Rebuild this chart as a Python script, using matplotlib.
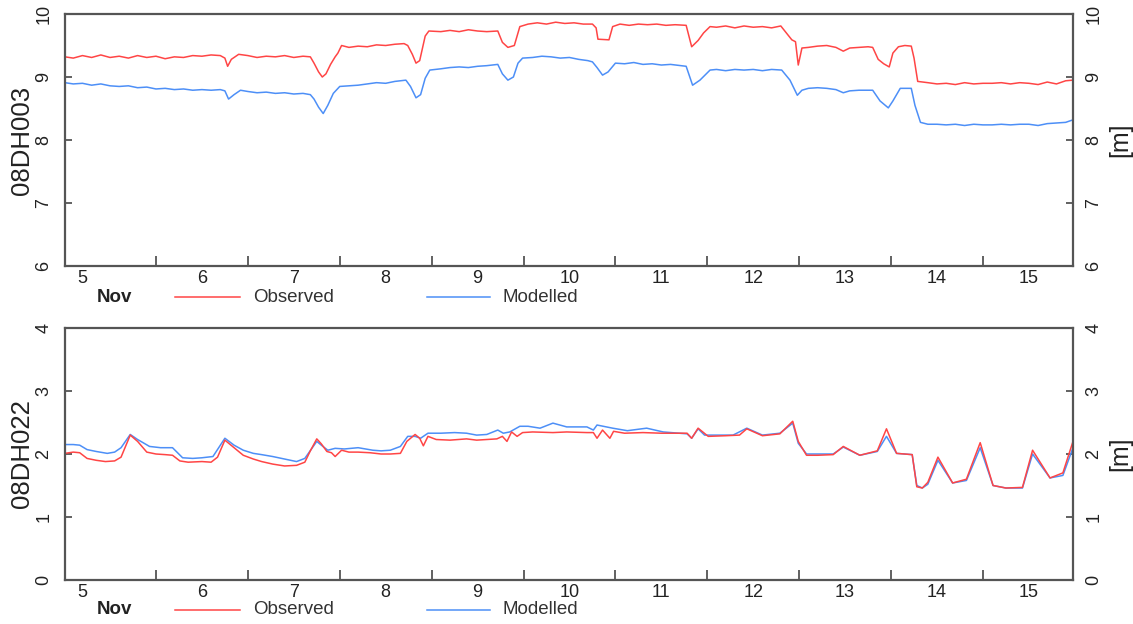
import matplotlib
matplotlib.use("Agg")
import matplotlib.pyplot as plt
from matplotlib.lines import Line2D

plt.rcParams["font.family"] = ["Liberation Sans", "DejaVu Sans"]

RED = "#ff4545"
BLUE = "#4d8ff7"
GREY = "#555555"

# x is day of November; labels sit on the days, tick marks between them
DAY_LABELS = ["5", "6", "7", "8", "9", "10", "11", "12", "13", "14", "15"]
DAY_LABEL_POS = [4.70, 6, 7, 8, 9, 10, 11, 12, 13, 14, 15]
DAY_TICKS = [5.5, 6.5, 7.5, 8.5, 9.5, 10.5, 11.5, 12.5, 13.5, 14.5]

# ---- station 08DH003 (top) ----
t_obs1 = [4.51, 4.6, 4.7, 4.8, 4.9, 5.0, 5.1, 5.2, 5.3, 5.4, 5.5, 5.6, 5.7, 5.8, 5.9,
          6.0, 6.1, 6.2, 6.25, 6.28, 6.32, 6.4, 6.5, 6.6, 6.7, 6.8, 6.9, 7.0, 7.1,
          7.18, 7.22, 7.27, 7.31, 7.35, 7.40, 7.45, 7.48, 7.52, 7.6, 7.7, 7.8, 7.9,
          8.0, 8.1, 8.2, 8.24, 8.29, 8.33, 8.37, 8.43, 8.47, 8.6, 8.7, 8.8, 8.9, 9.0,
          9.1, 9.22, 9.27, 9.33, 9.40, 9.46, 9.55, 9.65, 9.75, 9.85, 9.95, 10.05,
          10.15, 10.25, 10.29, 10.31, 10.43, 10.47, 10.55, 10.65, 10.75, 10.85,
          10.95, 11.05, 11.15, 11.27, 11.33, 11.40, 11.46, 11.53, 11.6, 11.7, 11.8,
          11.9, 12.0, 12.1, 12.2, 12.3, 12.36, 12.42, 12.46, 12.49, 12.53, 12.6,
          12.7, 12.8, 12.9, 12.98, 13.05, 13.15, 13.25, 13.30, 13.36, 13.42, 13.48,
          13.52, 13.58, 13.65, 13.72, 13.75, 13.79, 13.9, 14.0, 14.1, 14.2, 14.3,
          14.4, 14.5, 14.6, 14.7, 14.8, 14.9, 15.0, 15.1, 15.2, 15.3, 15.4, 15.48]
obs1 = [9.32, 9.30, 9.34, 9.31, 9.35, 9.31, 9.33, 9.30, 9.34, 9.31, 9.33, 9.29, 9.32,
        9.31, 9.34, 9.33, 9.35, 9.34, 9.30, 9.17, 9.28, 9.36, 9.34, 9.31, 9.33, 9.32,
        9.34, 9.31, 9.33, 9.32, 9.22, 9.08, 9.00, 9.05, 9.20, 9.32, 9.38, 9.50, 9.47,
        9.49, 9.48, 9.51, 9.50, 9.52, 9.53, 9.50, 9.36, 9.22, 9.26, 9.65, 9.73, 9.72,
        9.74, 9.72, 9.75, 9.73, 9.72, 9.73, 9.55, 9.47, 9.50, 9.80, 9.84, 9.86, 9.84,
        9.87, 9.85, 9.86, 9.84, 9.84, 9.78, 9.60, 9.59, 9.80, 9.84, 9.82, 9.84, 9.83,
        9.84, 9.82, 9.83, 9.82, 9.48, 9.58, 9.70, 9.80, 9.79, 9.81, 9.78, 9.81, 9.79,
        9.80, 9.78, 9.81, 9.70, 9.59, 9.56, 9.19, 9.46, 9.47, 9.49, 9.50, 9.47, 9.41,
        9.46, 9.47, 9.48, 9.47, 9.28, 9.21, 9.16, 9.38, 9.48, 9.50, 9.49, 9.30, 8.93,
        8.91, 8.89, 8.90, 8.88, 8.91, 8.89, 8.90, 8.90, 8.91, 8.89, 8.91, 8.90, 8.88,
        8.92, 8.89, 8.94, 8.95]

t_mod1 = [4.51, 4.6, 4.7, 4.8, 4.9, 5.0, 5.1, 5.2, 5.3, 5.4, 5.5, 5.6, 5.7, 5.8, 5.9,
          6.0, 6.1, 6.2, 6.25, 6.29, 6.35, 6.42, 6.5, 6.6, 6.7, 6.8, 6.9, 7.0, 7.1,
          7.18, 7.22, 7.27, 7.32, 7.37, 7.43, 7.50, 7.6, 7.7, 7.8, 7.9, 8.0, 8.1,
          8.22, 8.27, 8.33, 8.38, 8.43, 8.48, 8.6, 8.7, 8.8, 8.9, 9.0, 9.1, 9.22,
          9.27, 9.33, 9.39, 9.44, 9.49, 9.6, 9.7, 9.8, 9.9, 10.0, 10.1, 10.2, 10.25,
          10.30, 10.36, 10.42, 10.50, 10.6, 10.7, 10.8, 10.9, 11.0, 11.1, 11.27,
          11.34, 11.42, 11.53, 11.6, 11.7, 11.8, 11.9, 12.0, 12.1, 12.2, 12.31,
          12.40, 12.48, 12.53, 12.6, 12.7, 12.8, 12.9, 12.98, 13.05, 13.15, 13.30,
          13.38, 13.47, 13.52, 13.60, 13.72, 13.76, 13.82, 13.9, 14.0, 14.1, 14.2,
          14.3, 14.4, 14.5, 14.6, 14.7, 14.8, 14.9, 15.0, 15.1, 15.2, 15.3, 15.4, 15.48]
mod1 = [8.91, 8.89, 8.90, 8.87, 8.89, 8.86, 8.85, 8.86, 8.83, 8.84, 8.81, 8.82, 8.80,
        8.81, 8.79, 8.80, 8.79, 8.80, 8.78, 8.65, 8.72, 8.79, 8.77, 8.75, 8.76, 8.74,
        8.75, 8.73, 8.74, 8.72, 8.65, 8.52, 8.42, 8.55, 8.74, 8.85, 8.86, 8.87, 8.89,
        8.91, 8.90, 8.93, 8.95, 8.85, 8.67, 8.72, 8.98, 9.11, 9.13, 9.15, 9.16, 9.15,
        9.17, 9.18, 9.20, 9.05, 8.95, 9.00, 9.22, 9.30, 9.31, 9.33, 9.32, 9.30, 9.31,
        9.28, 9.26, 9.24, 9.15, 9.03, 9.08, 9.22, 9.21, 9.23, 9.20, 9.21, 9.19, 9.20,
        9.17, 8.87, 8.95, 9.11, 9.12, 9.10, 9.12, 9.11, 9.12, 9.10, 9.12, 9.11, 8.95,
        8.71, 8.79, 8.82, 8.83, 8.82, 8.80, 8.75, 8.78, 8.79, 8.79, 8.62, 8.51, 8.62,
        8.82, 8.82, 8.55, 8.28, 8.25, 8.25, 8.24, 8.25, 8.23, 8.25, 8.24, 8.24, 8.25,
        8.24, 8.25, 8.25, 8.23, 8.26, 8.27, 8.28, 8.32]

# ---- station 08DH022 (bottom) ----
t_obs2 = [4.51, 4.6, 4.67, 4.75, 4.85, 4.95, 5.05, 5.12, 5.22, 5.30, 5.40, 5.50, 5.60,
          5.68, 5.76, 5.85, 6.0, 6.1, 6.17, 6.25, 6.35, 6.45, 6.56, 6.65, 6.77, 6.9,
          7.03, 7.12, 7.18, 7.25, 7.30, 7.36, 7.41, 7.45, 7.52, 7.6, 7.7, 7.83, 7.95,
          8.05, 8.16, 8.23, 8.32, 8.37, 8.41, 8.46, 8.55, 8.7, 8.88, 8.99, 9.21, 9.27,
          9.32, 9.37, 9.43, 9.49, 9.6, 9.82, 9.97, 10.19, 10.26, 10.30, 10.36, 10.44,
          10.48, 10.6, 10.8, 11.0, 11.28, 11.33, 11.40, 11.51, 11.7, 11.85, 11.93,
          12.10, 12.29, 12.43, 12.49, 12.58, 12.7, 12.87, 12.98, 13.16, 13.35, 13.45,
          13.56, 13.73, 13.78, 13.84, 13.9, 14.01, 14.17, 14.32, 14.47, 14.61, 14.75,
          14.93, 15.04, 15.23, 15.37, 15.48]
obs2 = [2.01, 2.03, 2.02, 1.93, 1.90, 1.88, 1.89, 1.95, 2.30, 2.20, 2.03, 2.00, 1.99,
        1.98, 1.89, 1.87, 1.88, 1.87, 1.95, 2.22, 2.10, 1.98, 1.92, 1.88, 1.84, 1.81,
        1.82, 1.87, 2.05, 2.24, 2.16, 2.04, 2.02, 1.96, 2.06, 2.03, 2.03, 2.02, 2.00,
        2.00, 2.01, 2.20, 2.31, 2.25, 2.13, 2.28, 2.23, 2.22, 2.24, 2.22, 2.24, 2.28,
        2.20, 2.35, 2.28, 2.34, 2.35, 2.34, 2.35, 2.34, 2.34, 2.25, 2.38, 2.25, 2.36,
        2.33, 2.34, 2.33, 2.33, 2.25, 2.41, 2.28, 2.29, 2.30, 2.40, 2.29, 2.32, 2.52,
        2.20, 1.98, 1.98, 1.99, 2.12, 1.98, 2.05, 2.40, 2.01, 1.99, 1.48, 1.46, 1.55,
        1.95, 1.54, 1.60, 2.18, 1.50, 1.46, 1.47, 2.06, 1.62, 1.70, 2.20]

t_mod2 = [4.51, 4.6, 4.67, 4.75, 4.85, 4.97, 5.05, 5.12, 5.22, 5.30, 5.43, 5.55, 5.68,
          5.79, 5.9, 6.0, 6.12, 6.25, 6.35, 6.45, 6.56, 6.65, 6.77, 6.9, 7.03, 7.12,
          7.25, 7.30, 7.37, 7.45, 7.55, 7.7, 7.86, 7.95, 8.05, 8.16, 8.24, 8.32, 8.38,
          8.46, 8.6, 8.75, 8.88, 8.99, 9.1, 9.22, 9.28, 9.35, 9.46, 9.55, 9.68, 9.82,
          9.97, 10.19, 10.26, 10.30, 10.47, 10.63, 10.84, 11.02, 11.28, 11.33, 11.40,
          11.47, 11.78, 11.93, 12.10, 12.29, 12.43, 12.49, 12.58, 12.87, 12.98, 13.16,
          13.35, 13.45, 13.56, 13.73, 13.78, 13.84, 13.9, 14.01, 14.17, 14.32, 14.47,
          14.61, 14.75, 14.93, 15.04, 15.23, 15.37, 15.48]
mod2 = [2.15, 2.15, 2.14, 2.07, 2.04, 2.01, 2.03, 2.10, 2.31, 2.23, 2.12, 2.10, 2.10,
        1.94, 1.93, 1.94, 1.96, 2.25, 2.14, 2.06, 2.01, 1.99, 1.96, 1.92, 1.88, 1.93,
        2.20, 2.14, 2.06, 2.09, 2.08, 2.10, 2.06, 2.05, 2.06, 2.12, 2.28, 2.28, 2.25,
        2.33, 2.33, 2.34, 2.33, 2.30, 2.31, 2.38, 2.33, 2.35, 2.44, 2.44, 2.41, 2.49,
        2.43, 2.43, 2.38, 2.46, 2.41, 2.37, 2.41, 2.35, 2.32, 2.25, 2.40, 2.30, 2.30,
        2.41, 2.30, 2.33, 2.49, 2.17, 2.00, 2.00, 2.11, 1.98, 2.04, 2.28, 2.01, 1.99,
        1.50, 1.46, 1.52, 1.90, 1.54, 1.58, 2.10, 1.50, 1.46, 1.46, 2.00, 1.62, 1.66,
        2.10]

PANELS = [
    ("08DH003", t_obs1, obs1, t_mod1, mod1, (6, 10), [6, 7, 8, 9, 10]),
    ("08DH022", t_obs2, obs2, t_mod2, mod2, (0, 4), [0, 1, 2, 3, 4]),
]

W, H = 1133, 624
fig = plt.figure(figsize=(W / 100, H / 100), dpi=100)

# panel boxes in pixels: (top, bottom)
boxes = [(14, 266), (328, 580)]
legend_y = [297, 610]

for (name, to, yo, tm, ym, ylim, yt), (top, bot), ly in zip(PANELS, boxes, legend_y):
    ax = fig.add_axes([65 / W, 1 - bot / H, (1073 - 65) / W, (bot - top) / H])
    ax.plot(tm, ym, color=BLUE, lw=1.1)
    ax.plot(to, yo, color=RED, lw=1.1)
    ax.set_xlim(4.51, 15.48)
    ax.set_ylim(*ylim)
    ax.set_yticks(yt)
    ax.set_xticks(DAY_LABEL_POS)
    ax.set_xticklabels(DAY_LABELS)
    ax.set_xticks(DAY_TICKS, minor=True)
    ax.tick_params(axis="x", which="major", length=0, pad=3, labelsize=13, colors="#222222")
    ax.tick_params(axis="x", which="minor", direction="in", length=7, width=1.3,
                   color=GREY)
    ax.tick_params(axis="y", direction="in", length=5, width=1.3, color=GREY,
                   left=True, right=True, labelleft=True, labelright=True,
                   labelrotation=90, labelsize=13, labelcolor="#222222", pad=9)
    for lab in ax.get_yticklabels():
        lab.set_va("center")
    for s in ax.spines.values():
        s.set_color(GREY)
        s.set_linewidth(1.6)

    cy = 1 - (top + bot) / 2 / H
    fig.text(22 / W, cy, name, rotation=90, ha="center", va="center", fontsize=18.5,
             color="#222222")
    fig.text(1120 / W, cy, "[m]", rotation=90, ha="center", va="center", fontsize=18,
             color="#222222")

    # legend row under each panel
    fy = 1 - ly / H
    fig.text(114 / W, fy, "Nov", ha="center", va="center", fontsize=13.5,
             fontweight="bold", color="#222222")
    fig.add_artist(Line2D([175 / W, 240 / W], [fy, fy], color=RED, lw=1.1,
                          transform=fig.transFigure))
    fig.text(253 / W, fy, "Observed", ha="left", va="center", fontsize=13.5,
             color="#333333")
    fig.add_artist(Line2D([427 / W, 490 / W], [fy, fy], color=BLUE, lw=1.1,
                          transform=fig.transFigure))
    fig.text(503 / W, fy, "Modelled", ha="left", va="center", fontsize=13.5,
             color="#333333")

fig.savefig("out.png", dpi=100)
